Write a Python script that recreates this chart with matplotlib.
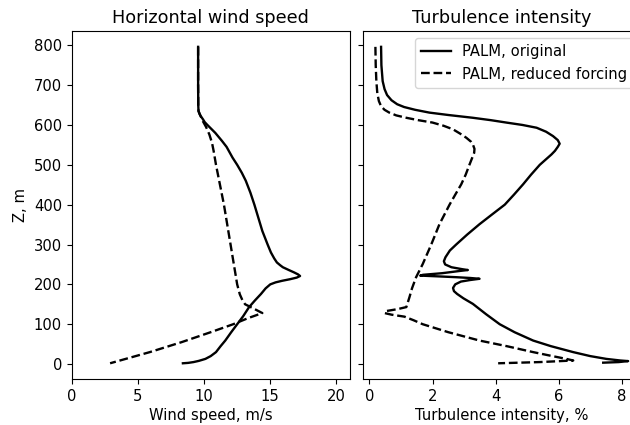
import numpy as np
import matplotlib
matplotlib.use("Agg")
import matplotlib.pyplot as plt

# wind speed profiles (m/s) vs height (m)
z_ws_orig = [796, 700, 650, 635, 628, 622, 615, 607, 600, 590, 580, 570, 560, 545, 530, 518,
             500, 480, 460, 430, 400, 367, 334, 300, 280, 265, 255, 248, 243, 236, 230, 225,
             221, 217, 213, 209, 205, 200, 190, 176, 160, 143, 120, 100, 80, 59, 45, 30, 20,
             13, 8, 5, 3, 2]
ws_orig = [9.55, 9.55, 9.56, 9.58, 9.65, 9.75, 9.9, 10.05, 10.25, 10.55, 10.85, 11.1, 11.35,
           11.7, 11.95, 12.15, 12.5, 12.85, 13.15, 13.5, 13.8, 14.1, 14.4, 14.8, 15.05, 15.3,
           15.5, 15.75, 15.95, 16.4, 16.8, 17.1, 17.25, 17.0, 16.5, 15.9, 15.4, 15.0, 14.65,
           14.3, 13.85, 13.4, 12.95, 12.5, 12.05, 11.6, 11.25, 10.9, 10.5, 10.1, 9.6, 9.2,
           8.8, 8.4]

z_ws_red = [796, 700, 650, 635, 625, 610, 595, 576, 555, 535, 500, 450, 400, 350, 300, 250,
            200, 175, 160, 150, 140, 128, 115, 100, 80, 55, 30, 2]
ws_red = [9.55, 9.55, 9.56, 9.58, 9.7, 9.9, 10.15, 10.4, 10.6, 10.72, 10.9, 11.2, 11.5, 11.75,
          12.0, 12.25, 12.5, 12.7, 12.9, 13.1, 13.7, 14.4, 13.3, 12.2, 10.5, 8.3, 5.9, 2.9]

# turbulence intensity profiles (%) vs height (m)
z_ti_orig = [796, 750, 710, 690, 675, 662, 652, 645, 638, 631, 625, 618, 612, 606, 600, 593,
             583, 572, 562, 553, 545, 535, 526, 500, 475, 451, 425, 400, 375, 351, 325, 300,
             285, 268, 258, 250, 243, 238, 236, 234, 232, 228, 224, 222, 220, 218, 216, 214,
             211, 207, 200, 191, 183, 176, 165, 151, 125, 100, 80, 59, 45, 30, 20, 13, 9,
             7.5, 5, 3.5]
ti_orig = [0.37, 0.38, 0.42, 0.48, 0.56, 0.7, 0.88, 1.1, 1.45, 1.9, 2.5, 3.28, 3.85, 4.34,
           4.85, 5.3, 5.6, 5.82, 5.97, 6.03, 5.97, 5.88, 5.77, 5.4, 5.12, 4.87, 4.58, 4.29,
           3.88, 3.49, 3.1, 2.75, 2.55, 2.41, 2.36, 2.4, 2.6, 2.95, 3.12, 2.9, 2.7, 2.3, 1.7,
           1.61, 2.2, 2.75, 3.2, 3.49, 3.2, 2.9, 2.72, 2.65, 2.68, 2.78, 2.98, 3.28, 3.7,
           4.13, 4.6, 5.19, 5.75, 6.46, 7.0, 7.51, 7.95, 8.2, 7.9, 7.41]

z_ti_red = [796, 750, 710, 680, 660, 647, 638, 631, 624, 618, 612, 606, 598, 589, 578, 568,
            558, 551, 540, 530, 500, 475, 451, 425, 400, 351, 300, 251, 218, 190, 168, 143,
            138, 133, 128, 124, 119, 110, 100, 80, 59, 45, 30, 20, 13, 9, 5, 2]
ti_red = [0.19, 0.2, 0.22, 0.25, 0.3, 0.37, 0.48, 0.63, 0.85, 1.17, 1.55, 2.0, 2.35, 2.65,
          2.88, 3.07, 3.22, 3.28, 3.33, 3.32, 3.17, 3.05, 2.91, 2.72, 2.54, 2.22, 1.96, 1.69,
          1.48, 1.35, 1.27, 1.17, 0.9, 0.53, 0.48, 0.7, 1.11, 1.4, 1.69, 2.5, 3.49, 4.35,
          5.19, 5.8, 6.24, 6.46, 5.4, 4.08]

plt.rcParams['font.size'] = 10.6
plt.rcParams['axes.titlesize'] = 12.7

fig, (ax1, ax2) = plt.subplots(1, 2, sharey=True, figsize=(6.3, 4.25), dpi=100)
fig.subplots_adjust(left=0.1138, right=1.0171, bottom=0.108, top=0.927, wspace=0.047)

ax1.plot(ws_orig, z_ws_orig, color='black', linestyle='-', lw=1.7)
ax1.plot(ws_red, z_ws_red, color='black', linestyle='--', lw=1.7)
ax1.set_xlim(0, 21)
ax1.set_title('Horizontal wind speed')
ax1.set_xlabel('Wind speed, m/s', labelpad=3)
ax1.set_ylabel('Z, m')

ax2.plot(ti_orig, z_ti_orig, color='black', linestyle='-', lw=1.7, label='PALM, original')
ax2.plot(ti_red, z_ti_red, color='black', linestyle='--', lw=1.7, label='PALM, reduced forcing')
ax2.set_title('Turbulence intensity')
ax2.set_xlabel('Turbulence intensity, %', labelpad=3)
ax2.legend(loc='upper right')

fig.savefig('out.png', dpi=100)
